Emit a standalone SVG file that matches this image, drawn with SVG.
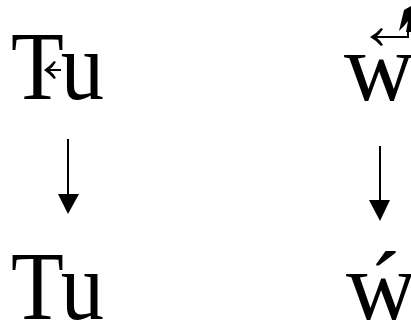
<svg xmlns="http://www.w3.org/2000/svg" width="411" height="324" viewBox="0 0 411 324">
<style>
.t{font-family:"Liberation Serif","Times New Roman",serif;font-size:97px;fill:#000}
.ln{stroke:#000;stroke-width:2;fill:none}
.hd{fill:#000}
</style>
<rect width="411" height="324" fill="#fff"/>
<g id="n-tl">
<text class="t" x="11" y="99" textLength="93" lengthAdjust="spacingAndGlyphs">Tu</text>
<path class="ln" d="M46,70 L61,70"/>
<path class="hd" d="M44,70 Q50,66 54,61 L56,62 Q53,67 49,70 Q53,73 56,78 L54,79 Q50,74 44,70 Z"/>
</g>
<g id="n-tr">
<text class="t" x="344" y="100">w</text>
<path class="ln" d="M372,37 L408,37 L408,30"/>
<path class="hd" d="M370,37 Q377,33 381,28 L383,29 Q380,34 376,37 Q380,40 383,45 L381,46 Q377,41 370,37 Z"/>
<path class="hd" d="M399,31 L404,10 L411,6 L411,32 L406,32 L408,21 L404,26 Z"/>
</g>
<g id="n-bl">
<text class="t" x="11" y="319" textLength="93" lengthAdjust="spacingAndGlyphs">Tu</text>
</g>
<g id="n-br">
<text class="t" x="346" y="319">ẃ</text>
</g>
<g id="edges">
<path class="ln" d="M68,139 L68,196"/>
<path class="hd" d="M58,194 L79,194 L68,214 Z"/>
<path class="ln" d="M380,146 L380,202"/>
<path class="hd" d="M369,200 L390,200 L380,221 Z"/>
</g>
</svg>
